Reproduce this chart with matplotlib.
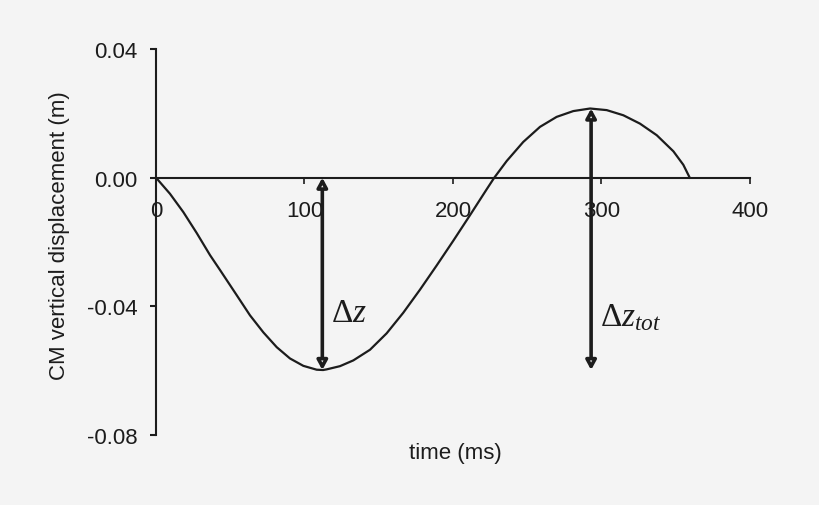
import matplotlib
matplotlib.use("Agg")
import matplotlib.pyplot as plt

# CM trajectory
time_ms = [0, 9.4, 18.4, 27.4, 36.4, 43.1, 54.3, 63.3, 72.3, 81.3, 90.2, 99.2,
           108.2, 112.5, 114.9, 123.9, 132.9, 144.1, 155.3, 166.5, 177.8, 189,
           200.2, 211.4, 222.7, 227.8, 236.2, 247.3, 258.6, 269.8, 281, 292.3,
           303.5, 314.7, 325.9, 337.2, 348.4, 355.1, 359.4]
disp_m = [0, -0.005, -0.0107, -0.0172, -0.0241, -0.0287, -0.0365, -0.0428,
          -0.0481, -0.0527, -0.0562, -0.0585, -0.0597, -0.0598, -0.0596,
          -0.0586, -0.0568, -0.0535, -0.0484, -0.0420, -0.0348, -0.0273,
          -0.0196, -0.0117, -0.0036, 0, 0.0052, 0.0111, 0.0158, 0.0189, 0.0207,
          0.0215, 0.021, 0.0194, 0.0168, 0.0132, 0.0082, 0.0040, 0]

x_ticks = [0, 100, 200, 300, 400]
y_ticks = [0.04, 0.00, -0.04, -0.08]
y_tick_labels = ["0.04", "0.00", "-0.04", "-0.08"]

# double arrows: (time, top, bottom)
dz_arrow = (112, 0.0, -0.0598)
dz_tot_arrow = (293, 0.0215, -0.0598)

bg = "#f4f4f4"
ink = "#1c1c1c"

plt.rcParams["font.family"] = ["Liberation Sans", "DejaVu Sans"]
plt.rcParams["mathtext.fontset"] = "custom"
plt.rcParams["mathtext.rm"] = "Liberation Serif"
plt.rcParams["mathtext.it"] = "Liberation Serif:italic"

fig = plt.figure(figsize=(8.2, 5.06), dpi=100, facecolor=bg)
ax = fig.add_axes([156 / 820, 1 - 436 / 506, 594 / 820, 386 / 506])
ax.set_facecolor(bg)

ax.plot(time_ms, disp_m, color=ink, lw=1.6, solid_joinstyle="round")

ax.set_xlim(0, 400)
ax.set_ylim(-0.08, 0.04)

for s in ["top", "right"]:
    ax.spines[s].set_visible(False)
ax.spines["left"].set_position(("data", 0))
ax.spines["bottom"].set_position(("data", 0))
for s in ["left", "bottom"]:
    ax.spines[s].set_color(ink)
    ax.spines[s].set_linewidth(1.5)

ax.set_xticks(x_ticks)
ax.set_yticks(y_ticks)
ax.set_yticklabels(y_tick_labels)
ax.tick_params(axis="x", direction="out", length=4.5, width=1.2, pad=11.5,
               labelsize=16, colors=ink)
ax.tick_params(axis="y", direction="out", length=4.5, width=1.5, pad=9,
               labelsize=16, colors=ink)

# vertical double arrows
for t, top, bot in [dz_arrow, dz_tot_arrow]:
    ax.annotate("", xy=(t, top), xytext=(t, bot),
                arrowprops=dict(arrowstyle="<|-|>,head_length=0.55,head_width=0.3",
                                color=ink, lw=2.6, fc=bg, shrinkA=0, shrinkB=0))

ax.text(dz_arrow[0] + 6, -0.042, r"$\Delta z$", fontsize=24, color=ink,
        va="center", ha="left")
ax.text(dz_tot_arrow[0] + 6, -0.0432, r"$\Delta z_{tot}$", fontsize=24, color=ink,
        va="center", ha="left")

fig.text(455 / 820, 1 - 453 / 506, "time (ms)", fontsize=16, color=ink,
         ha="center", va="center")
fig.text(60 / 820, 1 - 236 / 506, "CM vertical displacement (m)", fontsize=16,
         color=ink, ha="center", va="center", rotation=90)

fig.savefig("out.png", dpi=100, facecolor=bg)
